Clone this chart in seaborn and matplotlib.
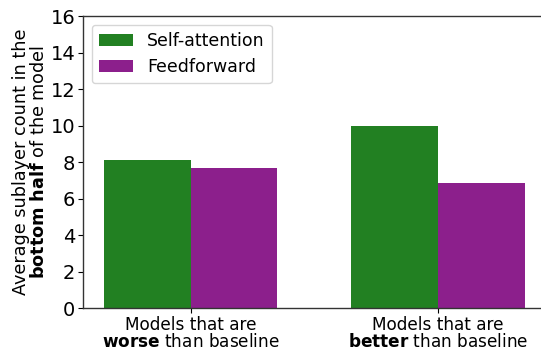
import matplotlib
matplotlib.use("Agg")
import matplotlib.pyplot as plt
import seaborn as sns
import pandas as pd

# Average sublayer counts in the bottom half of the model
groups = ["Models that are\n$\\bf{worse}$ than baseline",
          "Models that are\n$\\bf{better}$ than baseline"]
sublayers = ["Self-attention", "Feedforward"]
self_attention = [8.1, 10.0]
feedforward = [7.7, 6.85]
yticks = [0, 2, 4, 6, 8, 10, 12, 14, 16]

df = pd.DataFrame({
    "group": groups * 2,
    "sublayer": [sublayers[0]] * 2 + [sublayers[1]] * 2,
    "count": self_attention + feedforward,
})

plt.rcParams["font.family"] = ["DejaVu Sans"]
plt.rcParams["font.size"] = 12

fig = plt.figure(figsize=(5.41, 3.5), dpi=100)
ax = fig.add_axes([0.1534, 0.12, 0.855, 0.834])

sns.barplot(data=df, x="group", y="count", hue="sublayer",
            palette=["#228022", "#8c1f8c"], width=0.7, linewidth=0,
            saturation=1, ax=ax)

ax.set_xlim(-0.435, 1.435)
ax.set_ylim(0, 16)
ax.set_yticks(yticks)
ax.set_xlabel("")
ax.set_ylabel("Average sublayer count in the\n$\\bf{bottom\\ half}$ of the model",
              fontsize=12.7, linespacing=1.0, labelpad=2)
ax.tick_params(axis="y", labelsize=14, pad=2)
ax.tick_params(axis="x", labelsize=12.2, pad=2)
for lab in ax.get_xticklabels():
    lab.set_linespacing(0.98)
for s in ax.spines.values():
    s.set_linewidth(1.0)
    s.set_color("#333333")

leg = ax.legend(loc="upper left", fontsize=12.5, frameon=True)
leg.set_title(None)

fig.savefig("out.png", dpi=100)
